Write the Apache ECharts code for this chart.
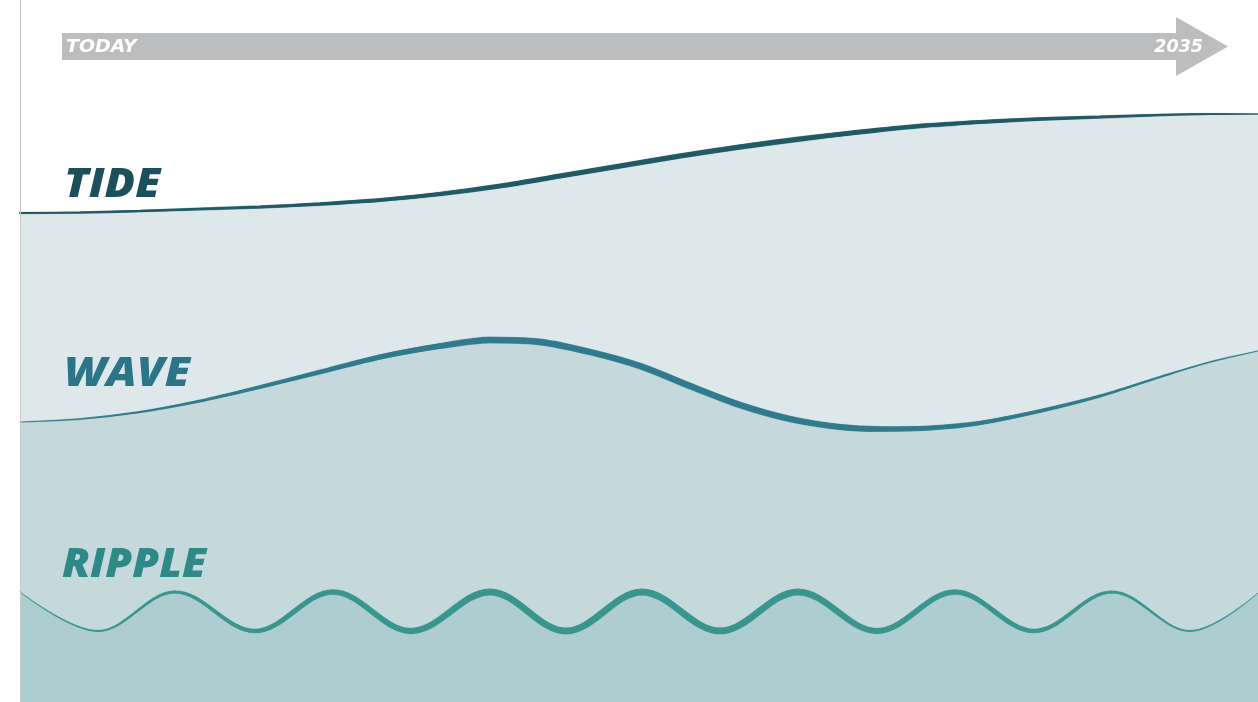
<!DOCTYPE html>
<html>
<head>
<meta charset="utf-8">
<script src="https://cdn.jsdelivr.net/npm/echarts@6/dist/echarts.min.js"></script>
<style>
  html, body { margin: 0; padding: 0; background: #ffffff; }
  #chart { width: 1258px; height: 702px; }
</style>
</head>
<body>
<div id="chart"></div>
<script>
// ---- Data (x = position along timeline, y = level) ----
const tideX   = [0, 60, 120, 180, 240, 300, 360, 420, 480, 540, 600, 660, 720, 780, 840, 900, 960, 1020, 1080, 1140, 1190, 1238];
const tideY   = [489, 489.5, 491, 493, 495, 498, 502, 508, 516, 526, 536, 546, 555, 563, 570, 576, 580, 583, 585, 587, 588, 588];

const waveX   = [0, 60, 120, 180, 240, 300, 360, 420, 470, 520, 570, 620, 670, 720, 770, 820, 860, 910, 960, 1020, 1080, 1140, 1190, 1238];
const waveY   = [280, 283, 290, 301, 315, 330, 345, 356, 362, 360, 350, 336, 316, 297, 283, 275, 273, 274, 279, 291, 306, 325, 340, 351];

const rippleX = [0, 78, 155, 235, 313, 391, 470, 546, 622, 700, 778, 857, 935, 1014, 1092, 1170, 1238];
const rippleY = [110, 71, 110, 71, 110, 71, 110, 71, 110, 71, 110, 71, 110, 71, 110, 71, 109];

const labels = ['TIDE', 'WAVE', 'RIPPLE'];
const timelineLabels = ['TODAY', '2035'];

// ---- Styles ----
const fills = ['#dee7e9', '#c5d9dd', '#aecdd0'];
const lineColors = ['#1f5a66', '#2f7b8d', '#3a958f'];
const textColors = ['#1b4f5c', '#2b7587', '#2f8a87'];
const smoothness = [0.3, 0.3, 0.36];
// line width profile along the curve: [fraction, width]
const profiles = [
  [[0, 2], [0.2, 3.2], [0.4, 5], [0.6, 5.5], [0.75, 4.5], [0.9, 2.8], [1, 1.3]],
  [[0, 1], [0.1, 2], [0.25, 4.8], [0.38, 6.5], [0.62, 6.5], [0.75, 4.8], [0.9, 2.5], [1, 1]],
  [[0, 1], [0.08, 2.2], [0.22, 5], [0.38, 6.8], [0.62, 6.8], [0.8, 4.8], [0.92, 2.2], [1, 1]]
];

function zip(xs, ys) { return xs.map((x, i) => [x, ys[i]]); }
function hexToRgba(hex, a) {
  const n = parseInt(hex.slice(1), 16);
  return 'rgba(' + ((n >> 16) & 255) + ',' + ((n >> 8) & 255) + ',' + (n & 255) + ',' + a + ')';
}
function widthAt(profile, t) {
  for (let i = 1; i < profile.length; i++) {
    if (t <= profile[i][0]) {
      const [t0, w0] = profile[i - 1], [t1, w1] = profile[i];
      return w0 + (w1 - w0) * (t - t0) / (t1 - t0);
    }
  }
  return profile[profile.length - 1][1];
}

const series = [];
const dataSets = [zip(tideX, tideY), zip(waveX, waveY), zip(rippleX, rippleY)];

dataSets.forEach((data, idx) => {
  series.push({
    type: 'line', data: data, smooth: smoothness[idx], showSymbol: false, silent: true,
    lineStyle: { width: 0 }, areaStyle: { color: fills[idx], opacity: 1, origin: 'start' },
    z: 2 + idx * 2
  });
  const layerWidths = [1, 1.8, 2.6, 3.4, 4.2, 5, 5.8, 6.8];
  layerWidths.forEach((w, k) => {
    const prev = k === 0 ? 0 : layerWidths[k - 1];
    const stops = [];
    const N = 40;
    for (let s = 0; s <= N; s++) {
      const t = s / N;
      const pw = widthAt(profiles[idx], t);
      let a = k === 0 ? 1 : Math.max(0, Math.min(1, (pw - prev) / (w - prev)));
      stops.push({ offset: t, color: hexToRgba(lineColors[idx], a.toFixed(3)) });
    }
    series.push({
      type: 'line', data: data, smooth: smoothness[idx], showSymbol: false, silent: true,
      lineStyle: {
        width: w, cap: 'round',
        color: { type: 'linear', x: 0, y: 0, x2: 1, y2: 0, colorStops: stops }
      },
      z: 3 + idx * 2
    });
  });
});

const bigFont = 'italic 800 40px "Open Sans", sans-serif';
const smallFont = 'italic bold 17.5px "DejaVu Sans", sans-serif';

const chart = echarts.init(document.getElementById('chart'));
chart.setOption({
  animation: false,
  backgroundColor: '#ffffff',
  grid: { left: 20, right: 0, top: 0, bottom: 0 },
  xAxis: { type: 'value', min: 0, max: 1238, show: false },
  yAxis: {
    type: 'value', min: 0, max: 702, z: 20,
    axisLine: { show: true, lineStyle: { color: '#c8c8c8', width: 1 } },
    axisTick: { show: false }, axisLabel: { show: false }, splitLine: { show: false }
  },
  series: series,
  graphic: [
    {
      type: 'polygon', z: 100,
      shape: { points: [[62, 33], [1176, 33], [1176, 17], [1228, 46.5], [1176, 76], [1176, 60], [62, 60]] },
      style: { fill: '#bcbdbf' }
    },
    {
      type: 'text', z: 101, x: 66, y: 47, scaleX: 1.08,
      style: { text: timelineLabels[0], fill: '#ffffff', align: 'left', verticalAlign: 'middle', font: smallFont }
    },
    {
      type: 'text', z: 101, x: 1203, y: 47,
      style: { text: timelineLabels[1], fill: '#ffffff', align: 'right', verticalAlign: 'middle', font: smallFont }
    },
    {
      type: 'text', z: 101, x: 64, y: 166, scaleX: 1.12,
      style: { text: labels[0], fill: textColors[0], align: 'left', verticalAlign: 'top', font: bigFont }
    },
    {
      type: 'text', z: 101, x: 64, y: 355, scaleX: 1.13,
      style: { text: labels[1], fill: textColors[1], align: 'left', verticalAlign: 'top', font: bigFont }
    },
    {
      type: 'text', z: 101, x: 62, y: 546, scaleX: 1.08,
      style: { text: labels[2], fill: textColors[2], align: 'left', verticalAlign: 'top', font: bigFont }
    }
  ]
});
</script>
</body>
</html>
